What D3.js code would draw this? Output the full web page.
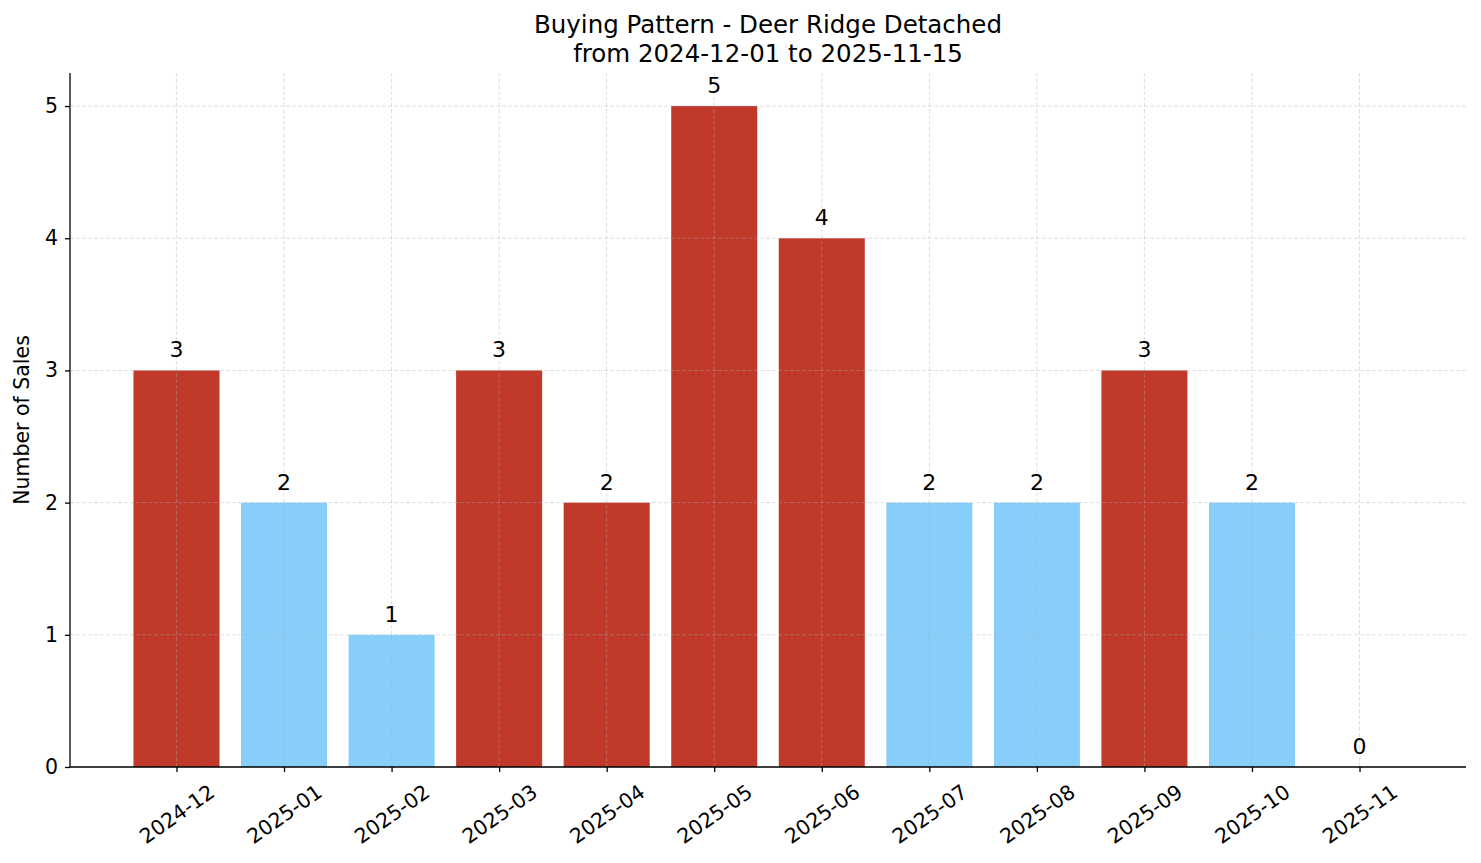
<!DOCTYPE html>
<html>
<head>
<meta charset="utf-8">
<script src="https://cdn.jsdelivr.net/npm/d3@7"></script>
<style>
  body { margin: 0; background: #fff; }
  svg { font-family: "DejaVu Sans", sans-serif; }
</style>
</head>
<body>
<svg id="chart" width="1481" height="863"></svg>
<script>
// data
var months = ['2024-12', '2025-01', '2025-02', '2025-03', '2025-04', '2025-05',
              '2025-06', '2025-07', '2025-08', '2025-09', '2025-10', '2025-11'];
var sales = [3, 2, 1, 3, 2, 5, 4, 2, 2, 3, 2, 0];
var hot = [true, false, false, true, true, true, true, false, false, true, false, false];
var yTicks = [0, 1, 2, 3, 4, 5];

var svg = d3.select('#chart');
var margin = {left: 70, right: 15, top: 73, bottom: 96};
var W = 1481, H = 863;
var innerW = W - margin.left - margin.right;
var innerH = H - margin.top - margin.bottom;
var tickFont = 20.5;

var g = svg.append('g').attr('transform', 'translate(' + margin.left + ',' + margin.top + ')');

// matplotlib-like limits: bars 0.8 wide, 5% margins
var x = d3.scaleLinear().domain([-0.99, months.length - 1 + 0.99]).range([0, innerW]);
var y = d3.scaleLinear().domain([0, 5.25]).range([innerH, 0]);
var barW = x(0.8) - x(0);
var color = d3.scaleOrdinal().domain([true, false]).range(['#c0392b', '#87cefa']);

// bars
g.selectAll('rect.bar').data(sales).enter().append('rect')
  .attr('class', 'bar')
  .attr('x', function (d, i) { return x(i) - barW / 2; })
  .attr('y', function (d) { return y(d); })
  .attr('width', barW)
  .attr('height', function (d) { return innerH - y(d); })
  .attr('fill', function (d, i) { return color(hot[i]); });

// grid (drawn over the bars, faint)
var grid = g.append('g').attr('class', 'grid');
grid.selectAll('line.h').data(yTicks).enter().append('line')
  .attr('x1', 0).attr('x2', innerW)
  .attr('y1', function (d) { return y(d); }).attr('y2', function (d) { return y(d); });
grid.selectAll('line.v').data(months).enter().append('line')
  .attr('x1', function (d, i) { return x(i); }).attr('x2', function (d, i) { return x(i); })
  .attr('y1', 0).attr('y2', innerH);
grid.selectAll('line')
  .attr('stroke', '#b0b0b0')
  .attr('stroke-opacity', 0.5)
  .attr('stroke-width', 0.8)
  .attr('stroke-dasharray', '4,2');

// value labels
g.selectAll('text.val').data(sales).enter().append('text')
  .attr('class', 'val')
  .attr('x', function (d, i) { return x(i); })
  .attr('y', function (d) { return y(d) - 13; })
  .attr('text-anchor', 'middle')
  .attr('font-size', 22)
  .attr('fill', '#000')
  .text(function (d) { return d; });

// axes
var yAxis = d3.axisLeft(y).tickValues(yTicks).tickFormat(d3.format('d')).tickSize(5).tickPadding(7);
var yg = g.append('g').call(yAxis);
yg.select('.domain').attr('stroke', '#000').attr('stroke-width', 1.3).attr('d', 'M0,' + innerH + 'V0');
yg.selectAll('.tick line').attr('stroke-width', 1.3);
yg.selectAll('.tick text').attr('font-size', tickFont).attr('fill', '#000').attr('font-family', '"DejaVu Sans", sans-serif');

var xAxis = d3.axisBottom(x).tickValues(d3.range(months.length))
  .tickFormat(function (i) { return months[i]; }).tickSize(5);
var xg = g.append('g').attr('transform', 'translate(0,' + innerH + ')').call(xAxis);
xg.select('.domain').attr('stroke', '#000').attr('stroke-width', 1.3).attr('d', 'M0,0H' + innerW);
xg.selectAll('.tick line').attr('stroke-width', 1.3);
xg.selectAll('.tick text')
  .attr('font-size', tickFont).attr('fill', '#000').attr('font-family', '"DejaVu Sans", sans-serif')
  .attr('text-anchor', 'middle')
  .attr('y', 0)
  .attr('dy', '0.35em')
  .attr('transform', 'translate(0,47) rotate(-35)');

// y label
svg.append('text')
  .attr('transform', 'translate(29,' + (margin.top + innerH / 2) + ') rotate(-90)')
  .attr('text-anchor', 'middle')
  .attr('font-size', tickFont)
  .text('Number of Sales');

// title
var title = svg.append('text').attr('text-anchor', 'middle').attr('font-size', 24.5);
title.append('tspan').attr('x', margin.left + innerW / 2).attr('y', 33).text('Buying Pattern - Deer Ridge Detached');
title.append('tspan').attr('x', margin.left + innerW / 2).attr('y', 62).text('from 2024-12-01 to 2025-11-15');
</script>
</body>
</html>
